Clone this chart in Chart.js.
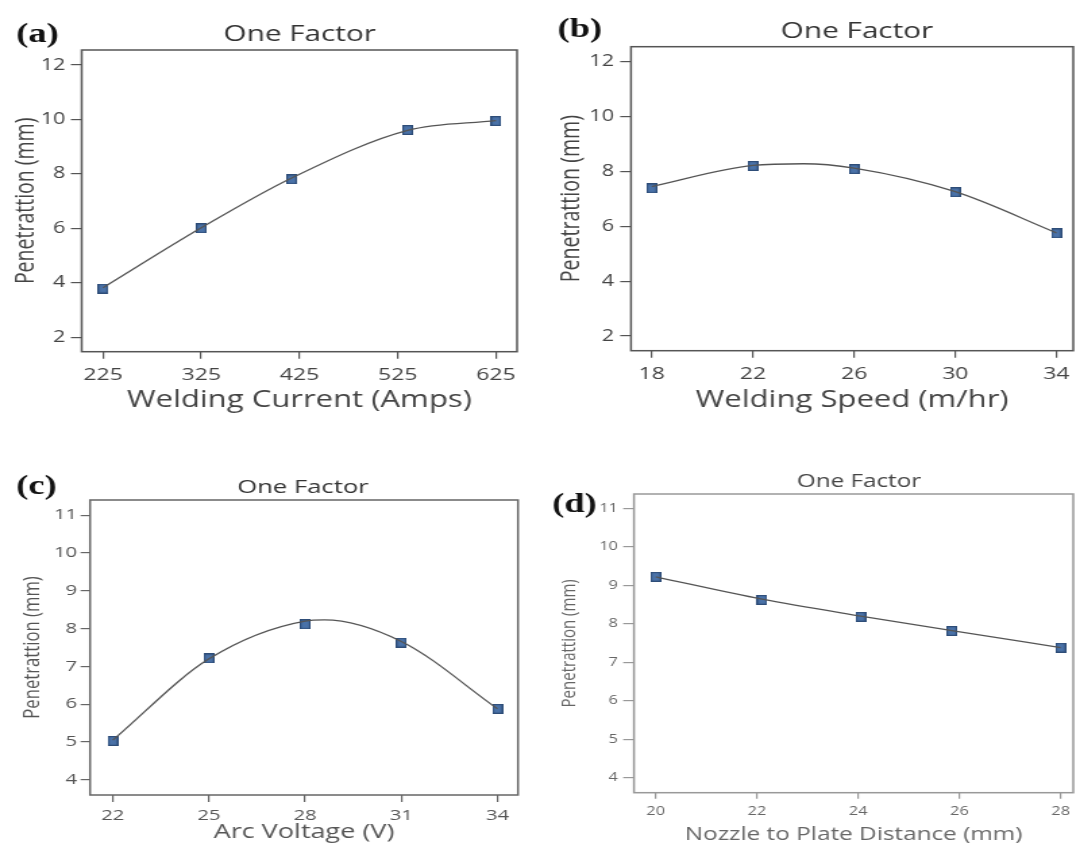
<!DOCTYPE html>
<html>
<head>
<meta charset="utf-8">
<script src="https://cdn.jsdelivr.net/npm/chart.js@4.4.1/dist/chart.umd.min.js"></script>
<style>
html,body{margin:0;padding:0;background:#fff;width:1081px;height:850px;overflow:hidden}
.panel{position:absolute;transform-origin:0 0;transform:scaleX(1.35)}
canvas{display:block}
</style>
</head>
<body>
<div class="panel" style="left:0;top:0"><canvas id="ca" width="400" height="425"></canvas></div>
<div class="panel" style="left:540px;top:0"><canvas id="cb" width="401" height="425"></canvas></div>
<div class="panel" style="left:0;top:425px"><canvas id="cc" width="400" height="425"></canvas></div>
<div class="panel" style="left:540px;top:425px"><canvas id="cd" width="401" height="425"></canvas></div>
<script>
// ---------- data ----------
const chartTitle = 'One Factor';
const yAxisTitle = 'Penetrattion (mm)';

// (a) Welding current
const currentX = [225, 325, 417, 535, 625];
const penetrationA = [3.79, 6.0, 7.8, 9.61, 9.94];
const fitXA = [225, 325, 417, 535, 625];
const fitA = [3.82, 6.02, 7.85, 9.6, 9.96];
const xTicksA = [225, 325, 425, 525, 625];
const yTicksA = [2, 4, 6, 8, 10, 12];

// (b) Welding speed
const speedX = [18, 22, 26, 30, 34];
const penetrationB = [7.38, 8.2, 8.08, 7.24, 5.74];
const fitXB = [18, 22, 24, 26, 30, 34];
const fitB = [7.45, 8.22, 8.28, 8.12, 7.26, 5.76];
const xTicksB = [18, 22, 26, 30, 34];
const yTicksB = [2, 4, 6, 8, 10, 12];

// (c) Arc voltage
const voltageX = [22, 25, 28, 31, 34];
const penetrationC = [5.03, 7.21, 8.11, 7.63, 5.88];
const fitXC = [22, 25, 28, 28.6, 31, 34];
const fitC = [5.05, 7.2, 8.2, 8.23, 7.66, 5.88];
const xTicksC = [22, 25, 28, 31, 34];
const yTicksC = [4, 5, 6, 7, 8, 9, 10, 11];

// (d) Nozzle to plate distance
const distanceX = [20, 22.1, 24.05, 25.85, 28];
const penetrationD = [9.22, 8.62, 8.18, 7.81, 7.38];
const fitXD = [20, 22.1, 24.05, 25.85, 28];
const fitD = [9.22, 8.64, 8.2, 7.82, 7.38];
const xTicksD = [20, 22, 24, 26, 28];
const yTicksD = [4, 5, 6, 7, 8, 9, 10, 11];

// ---------- rendering ----------
Chart.defaults.font.family = "'Open Sans', sans-serif";

function makeMarker(w, h, fill, stroke) {
  const c = document.createElement('canvas');
  c.width = w; c.height = h;
  const g = c.getContext('2d');
  g.fillStyle = fill; g.fillRect(0, 0, w, h);
  g.strokeStyle = stroke; g.lineWidth = 1.2;
  g.strokeRect(0.6, 0.6, w - 1.2, h - 1.2);
  return c;
}
const marker = makeMarker(8, 10, '#4a72a8', '#2e4d78');

function makeChart(p) {
  const canvas = document.getElementById(p.id);
  const boxPlugin = {
    id: 'box_' + p.id,
    afterDraw(chart) {
      const ctx = chart.ctx, a = chart.chartArea;
      ctx.save();
      ctx.strokeStyle = p.boxColor; ctx.lineWidth = 1.5;
      ctx.strokeRect(a.left, a.top, a.right - a.left, a.bottom - a.top);
      ctx.fillStyle = p.titleColor;
      ctx.font = p.titleSize + "px 'Open Sans'";
      ctx.textAlign = 'center'; ctx.textBaseline = 'middle';
      ctx.fillText(chartTitle, p.titleX, p.titleY);
      ctx.font = "bold " + p.tagSize + "px 'Liberation Serif'";
      ctx.textAlign = 'left'; ctx.fillStyle = '#111';
      ctx.fillText(p.tag, p.tagX, p.tagY);
      ctx.restore();
    }
  };
  new Chart(canvas, {
    type: 'scatter',
    data: {
      datasets: [
        { type: 'line', data: p.fx.map((x, i) => ({x: x, y: p.fit[i]})), borderColor: '#555',
          borderWidth: 1.3, pointRadius: 0, cubicInterpolationMode: 'monotone', fill: false },
        { type: 'scatter', data: p.x.map((x, i) => ({x: x, y: p.y[i]})), pointStyle: marker,
          pointRadius: 5, backgroundColor: '#4a72a8', borderColor: '#2e4d78' }
      ]
    },
    options: {
      responsive: false, animation: false, events: [],
      layout: { padding: { left: 0, top: p.area.t, right: p.W - p.area.r, bottom: 0 } },
      plugins: { legend: { display: false }, tooltip: { enabled: false }, title: { display: false } },
      scales: {
        x: {
          type: 'linear', min: p.xMin, max: p.xMax,
          afterFit(s) { s.height = p.H - p.area.b; },
          afterBuildTicks(s) { s.ticks = p.xTicks.map(v => ({value: v})); },
          grid: { drawOnChartArea: false, drawTicks: true, tickLength: p.xTickLen, color: p.boxColor, lineWidth: 1.2 },
          border: { display: false },
          ticks: { padding: p.xTickPad, color: p.labelColor, font: { size: p.xTickSize }, maxRotation: 0, autoSkip: false },
          title: { display: true, text: p.xTitle, color: p.labelColor, font: { size: p.xTitleSize },
                   padding: { top: 0, bottom: p.xTitlePad } }
        },
        y: {
          type: 'linear', min: p.yMin, max: p.yMax,
          afterFit(s) { s.width = p.area.l; },
          afterBuildTicks(s) { s.ticks = p.yTicks.map(v => ({value: v})); },
          grid: { drawOnChartArea: false, drawTicks: true, tickLength: p.yTickLen, color: p.boxColor, lineWidth: 1.2 },
          border: { display: false },
          ticks: { padding: p.yTickPad, color: p.labelColor, font: { size: p.yTickSize }, autoSkip: false },
          title: { display: true, text: yAxisTitle, color: p.labelColor, font: { size: p.yTitleSize },
                   padding: { top: p.yTitlePad, bottom: 0 } }
        }
      }
    },
    plugins: [boxPlugin]
  });
}

makeChart({ id: 'ca', W: 400, H: 425, area: { l: 60.5, r: 383, t: 50, b: 351.7 },
  x: currentX, y: penetrationA, fx: fitXA, fit: fitA, xTicks: xTicksA, yTicks: yTicksA,
  xMin: 203.3, xMax: 646.4, yMin: 1.47, yMax: 12.55,
  xTitle: 'Welding Current (Amps)', xTitleSize: 23, xTitlePad: 11,
  xTickSize: 17, xTickLen: 7, xTickPad: 6, yTickSize: 16, yTickLen: 8, yTickPad: 4,
  yTitleSize: 19.5, yTitlePad: 7.4,
  boxColor: '#555', labelColor: '#444', titleColor: '#333',
  titleX: 222, titleY: 35, titleSize: 22, tag: '(a)', tagX: 12, tagY: 35, tagSize: 27 });

makeChart({ id: 'cb', W: 401, H: 425, area: { l: 67.4, r: 398.5, t: 46.7, b: 350.7 },
  x: speedX, y: penetrationB, fx: fitXB, fit: fitB, xTicks: xTicksB, yTicks: yTicksB,
  xMin: 17.18, xMax: 34.665, yMin: 1.464, yMax: 12.547,
  xTitle: 'Welding Speed (m/hr)', xTitleSize: 23, xTitlePad: 11,
  xTickSize: 17, xTickLen: 7, xTickPad: 6, yTickSize: 16, yTickLen: 8, yTickPad: 4.6,
  yTitleSize: 19.6, yTitlePad: 11.2,
  boxColor: '#555', labelColor: '#444', titleColor: '#333',
  titleX: 234.8, titleY: 32, titleSize: 22, tag: '(b)', tagX: 13, tagY: 30, tagSize: 27 });

makeChart({ id: 'cc', W: 400, H: 425, area: { l: 66.7, r: 383.7, t: 75, b: 370 },
  x: voltageX, y: penetrationC, fx: fitXC, fit: fitC, xTicks: xTicksC, yTicks: yTicksC,
  xMin: 21.29, xMax: 34.64, yMin: 3.6, yMax: 11.4,
  xTitle: 'Arc Voltage (V)', xTitleSize: 20, xTitlePad: 6,
  xTickSize: 15, xTickLen: 7, xTickPad: 5, yTickSize: 15, yTickLen: 7, yTickPad: 2.5,
  yTitleSize: 16.7, yTitlePad: 14,
  boxColor: '#666', labelColor: '#555', titleColor: '#333',
  titleX: 224.4, titleY: 63, titleSize: 19, tag: '(c)', tagX: 12, tagY: 62, tagSize: 27 });

makeChart({ id: 'cd', W: 401, H: 425, area: { l: 69.6, r: 399.3, t: 69, b: 367.7 },
  x: distanceX, y: penetrationD, fx: fitXD, fit: fitD, xTicks: xTicksD, yTicks: yTicksD,
  xMin: 19.57, xMax: 28.25, yMin: 3.61, yMax: 11.37,
  xTitle: 'Nozzle to Plate Distance (mm)', xTitleSize: 18, xTitlePad: 4.2,
  xTickSize: 12, xTickLen: 6, xTickPad: 6, yTickSize: 12, yTickLen: 8, yTickPad: 4,
  yTitleSize: 15, yTitlePad: 13,
  boxColor: '#999', labelColor: '#666', titleColor: '#444',
  titleX: 236.3, titleY: 56.7, titleSize: 18, tag: '(d)', tagX: 9, tagY: 80, tagSize: 27 });
</script>
</body>
</html>
